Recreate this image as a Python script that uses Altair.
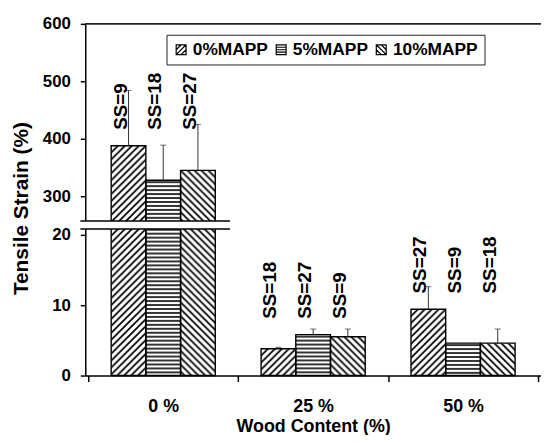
import base64
import altair as alt
import pandas as pd

# ---------------- data ----------------
groups = ["0 %", "25 %", "50 %"]
series = ["0%MAPP", "5%MAPP", "10%MAPP"]
strain = [[388, 328, 345], [3.8, 5.8, 5.5], [9.4, 4.6, 4.6]]
errors = [[96, 61, 80], [0.2, 0.8, 1.1], [3.2, 0.0, 2.0]]
sample_sizes = [[9, 18, 27], [18, 27, 9], [27, 9, 18]]
y_ticks = [0, 10, 20, 300, 400, 500, 600]
break_lo, break_hi = 20.8, 257  # broken axis: lower segment top, upper segment bottom

# ---------------- styles ----------------
FONT = "Liberation Sans"
W, H = 460, 355


def pattern_uri(tw, th, path, sw):
    svg = (
        '<svg xmlns="http://www.w3.org/2000/svg" width="100%" height="100%">'
        f'<defs><pattern id="p" width="{tw}" height="{th}" patternUnits="userSpaceOnUse">'
        f'<path d="{path}" stroke="black" stroke-width="{sw}" fill="none"/></pattern></defs>'
        '<rect width="100%" height="100%" fill="white"/>'
        '<rect width="100%" height="100%" fill="url(#p)"/></svg>'
    )
    return "data:image/svg+xml;base64," + base64.b64encode(svg.encode()).decode()


PATTERNS = {
    "0%MAPP": pattern_uri(7, 7, "M-1,1L1,-1M0,7L7,0M6,8L8,6", 1.7),
    "5%MAPP": pattern_uri(4, 4, "M-1,2H5", 1.6),
    "10%MAPP": pattern_uri(7, 7, "M-1,6L1,8M0,0L7,7M6,-1L8,1", 1.7),
}
LEGEND_PATHS = [
    "M-1,-1H1V1H-1Z M-1,0L0,-1 M-1,1L1,-1 M0,1L1,0",
    "M-1,-1H1V1H-1Z M-1,-0.5H1 M-1,0H1 M-1,0.5H1",
    "M-1,-1H1V1H-1Z M-1,0L0,1 M-1,-1L1,1 M0,-1L1,0",
]

rows = []
for gi, g in enumerate(groups):
    for si, s in enumerate(series):
        rows.append(
            dict(
                group=g,
                series=s,
                strain=strain[gi][si],
                err=errors[gi][si],
                ss=f"SS={sample_sizes[gi][si]}",
                img=PATTERNS[s],
            )
        )
df = pd.DataFrame(rows)

yscale = alt.Scale(domain=[0, break_lo, break_hi, 600], range=[H, 207, 199, 0], nice=False, zero=False)
y_axis = alt.Axis(
    values=y_ticks, grid=False,
    domainColor="black", domainWidth=1.5,
    tickColor="black", tickSize=5, tickWidth=1.5,
    labelFont=FONT, labelFontSize=17, labelFontWeight="bold", labelColor="black", labelPadding=10,
    titleFont=FONT, titleFontSize=21, titleFontWeight="bold", titleColor="black", titlePadding=11,
    titleY=186,
)
Y_TITLE = "Tensile Strain (%)"


def Y(field):
    return alt.Y(f"{field}:Q", scale=yscale, axis=y_axis, title=Y_TITLE)


x_axis = alt.Axis(
    labelAngle=0, grid=False, tickBand="extent",
    domainColor="black", domainWidth=1.5,
    tickColor="black", tickSize=6, tickWidth=1.5,
    labelFont=FONT, labelFontSize=18, labelFontWeight="bold", labelColor="black", labelPadding=16,
    titleFont=FONT, titleFontSize=18, titleFontWeight="bold", titleColor="black", titlePadding=2,
)
X = alt.X("group:N", sort=groups, scale=alt.Scale(paddingInner=0, paddingOuter=0.02), axis=x_axis,
          title="Wood Content (%)")
XO = alt.XOffset("series:N", sort=series, scale=alt.Scale(paddingInner=0, paddingOuter=0.66))

base = alt.Chart(df)

bars_bg = base.mark_bar(fill="white").encode(x=X, xOffset=XO, y=Y("strain"), y2=alt.datum(0))
bars_img = base.mark_image(aspect=False).encode(
    x=X, xOffset=XO, y=Y("strain"), y2=alt.datum(0), url="img:N"
)
bars_outline = base.mark_bar(fillOpacity=0, stroke="black", strokeWidth=1.4).encode(
    x=X, xOffset=XO, y=Y("strain"), y2=alt.datum(0)
)

err_base = base.transform_filter("datum.err > 0").transform_calculate(hi="datum.strain + datum.err")
err_rule = err_base.mark_rule(color="#333", strokeWidth=1).encode(x=X, xOffset=XO, y=Y("strain"), y2="hi:Q")
err_cap = err_base.mark_tick(color="#333", thickness=1, size=6).encode(x=X, xOffset=XO, y=Y("hi"))

break_band = alt.Chart(pd.DataFrame({"lo": [break_lo], "hi": [break_hi]})).mark_rect(fill="white").encode(
    x=alt.value(-5), x2=alt.value(146), y=Y("lo"), y2="hi:Q"
)
break_lines = alt.Chart(pd.DataFrame({"v": [break_lo, break_hi]})).mark_rule(
    color="black", strokeWidth=1.5
).encode(x=alt.value(-5), x2=alt.value(146), y=Y("v"))

top_rule = alt.Chart(pd.DataFrame({"v": [600]})).mark_rule(color="#222", strokeWidth=1.8).encode(y=Y("v"))

legend_pts = base.mark_point(opacity=0, filled=False, color="black", size=4).encode(
    x=X, xOffset=XO, y=Y("strain"),
    shape=alt.Shape(
        "series:N", sort=series,
        scale=alt.Scale(domain=series, range=LEGEND_PATHS),
        legend=alt.Legend(
            title=None, orient="none", legendX=82, legendY=11, direction="horizontal", columns=3,
            symbolSize=100, symbolStrokeWidth=1.2, symbolOpacity=1, symbolStrokeColor="black",
            labelFont=FONT, labelFontSize=17.5, labelFontWeight="bold", labelColor="black",
            labelOffset=3, columnPadding=4, padding=6,
            strokeColor="#222", fillColor="white",
        ),
    ),
)

labels = base.transform_joinaggregate(gmax="max(strain)", groupby=["group"]).mark_text(
    angle=270, align="left", baseline="middle", dx=16, dy=-8,
    font=FONT, fontSize=19, fontWeight="bold", color="black",
).encode(x=X, xOffset=XO, y=Y("gmax"), text="ss:N")

chart = (
    alt.layer(bars_bg, bars_img, bars_outline, err_rule, err_cap, break_band, break_lines,
              top_rule, legend_pts, labels)
    .properties(
        width=W, height=H,
        autosize=alt.AutoSizeParams(type="none"),
        padding={"left": 78, "top": 14, "right": 0, "bottom": 58},
    )
    .configure_view(stroke=None)
)

chart.save("out.html", embed_options={"renderer": "svg", "actions": False})
